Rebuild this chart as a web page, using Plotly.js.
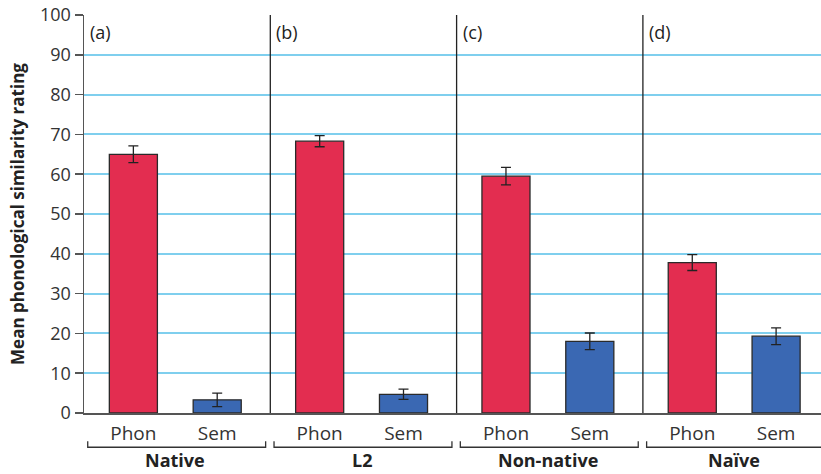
<!DOCTYPE html>
<html>
<head>
<meta charset="utf-8">
<script src="https://cdn.plot.ly/plotly-3.0.1.min.js"></script>
<style>html,body{margin:0;padding:0;background:#fff;}#chart{width:821px;height:474px;}</style>
</head>
<body>
<div id="chart"></div>
<script>
const groups = ["Native", "L2", "Non-native", "Naïve"];
const panelLabels = ["(a)", "(b)", "(c)", "(d)"];
const conditions = ["Phon", "Sem"];
const phonValues = [65.0, 68.3, 59.5, 37.8];
const phonErrors = [2.1, 1.4, 2.2, 2.0];
const semValues = [3.3, 4.7, 18.0, 19.3];
const semErrors = [1.7, 1.3, 2.1, 2.1];

const phonOffset = 0.265, semOffset = 0.715, barW = 0.258;
const phonX = groups.map((g, i) => i + phonOffset);
const semX = groups.map((g, i) => i + semOffset);
const FONT = "Open Sans";

const traces = [
  {type: "bar", x: phonX, y: phonValues, width: barW, name: "Phon",
   marker: {color: "#E32D50", line: {color: "#2a2a2a", width: 1.3}},
   error_y: {type: "data", array: phonErrors, visible: true, color: "#222", thickness: 1.3, width: 5}},
  {type: "bar", x: semX, y: semValues, width: barW, name: "Sem",
   marker: {color: "#3A68B3", line: {color: "#2a2a2a", width: 1.3}},
   error_y: {type: "data", array: semErrors, visible: true, color: "#222", thickness: 1.3, width: 5}}
];

const shapes = [];
const annotations = [];
for (let i = 1; i < groups.length; i++) {
  shapes.push({type: "line", xref: "x", yref: "paper", x0: i, x1: i, y0: 0, y1: 1,
    line: {color: "#222", width: 1.3}});
}
groups.forEach((g, i) => {
  const xa = i + 0.02, xb = Math.min(i + 0.975, 3.99);
  shapes.push({type: "path", xref: "x", yref: "paper",
    path: `M ${xa} -0.071 L ${xa} -0.086 L ${xb} -0.086 L ${xb} -0.071`,
    line: {color: "#333", width: 1.3}});
  annotations.push({xref: "x", yref: "paper", x: i + 0.49, y: -0.1533, text: "<b>" + g + "</b>",
    showarrow: false, xanchor: "center", yanchor: "bottom", font: {family: FONT, size: 18, color: "#222"}});
  annotations.push({xref: "x", yref: "paper", x: i + 0.022, y: 0.958, text: panelLabels[i],
    showarrow: false, xanchor: "left", yanchor: "middle", font: {family: FONT, size: 18, color: "#222"}});
});

const layout = {
  width: 821, height: 474,
  margin: {l: 84, r: 0, t: 15, b: 61},
  paper_bgcolor: "#fff", plot_bgcolor: "#fff",
  showlegend: false,
  barmode: "overlay",
  font: {family: FONT, size: 18, color: "#333"},
  xaxis: {range: [0, 3.956], tickmode: "array",
    tickvals: phonX.concat(semX),
    ticktext: phonX.map(() => conditions[0]).concat(semX.map(() => conditions[1])),
    showgrid: false, zeroline: false, showline: true, linecolor: "#555", linewidth: 1.5,
    ticks: "", ticklabelstandoff: 3, tickfont: {family: FONT, size: 19, color: "#333"}, fixedrange: true},
  yaxis: {range: [0, 100], tickvals: [0,10,20,30,40,50,60,70,80,90,100],
    showgrid: true, gridcolor: "#7FCFEE", gridwidth: 2,
    zeroline: false, showline: true, linecolor: "#555", linewidth: 1.5,
    ticks: "outside", ticklen: 8, tickcolor: "#555", tickwidth: 1.5,
    tickfont: {family: FONT, size: 18, color: "#333"},
    title: {text: "<b>Mean phonological similarity rating</b>", standoff: 11,
      font: {family: FONT, size: 17, color: "#222"}}},
  shapes: shapes,
  annotations: annotations
};

Plotly.newPlot("chart", traces, layout, {displayModeBar: false, staticPlot: true});
</script>
</body>
</html>
